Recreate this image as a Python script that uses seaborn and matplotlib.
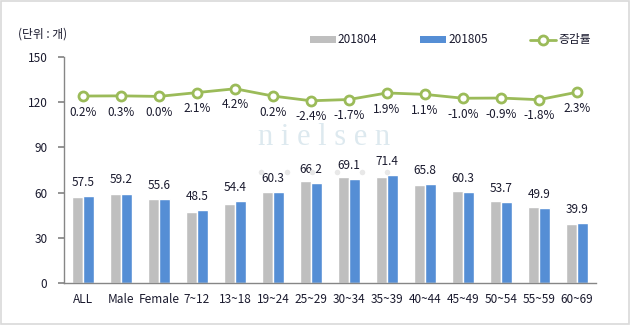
import numpy as np
import pandas as pd
import matplotlib
matplotlib.use("Agg")
import matplotlib.pyplot as plt
from matplotlib.patches import Rectangle, Patch
from matplotlib.lines import Line2D
import seaborn as sns

categories = ["ALL", "Male", "Female", "7~12", "13~18", "19~24", "25~29",
              "30~34", "35~39", "40~44", "45~49", "50~54", "55~59", "60~69"]
s201804 = [57.4, 59.0, 55.6, 47.5, 52.2, 60.2, 67.8, 70.3, 70.1, 65.1, 60.9, 54.2, 50.8, 39.0]
s201805 = [57.5, 59.2, 55.6, 48.5, 54.4, 60.3, 66.2, 69.1, 71.4, 65.8, 60.3, 53.7, 49.9, 39.9]
rate = [0.2, 0.3, 0.0, 2.1, 4.2, 0.2, -2.4, -1.7, 1.9, 1.1, -1.0, -0.9, -1.8, 2.3]
series_names = ["201804", "201805", "증감률"]
yticks = [0, 30, 60, 90, 120, 150]

sns.set_theme(style="white")
plt.rcParams["font.family"] = ["Noto Sans CJK KR", "DejaVu Sans"]
FS = 8.5
TXT = "#1a1a2e"

df = pd.DataFrame({
    "cat": categories * 2,
    "val": s201804 + s201805,
    "series": [series_names[0]] * len(categories) + [series_names[1]] * len(categories),
})

fig = plt.figure(figsize=(6.3, 3.25), dpi=100)
ax = fig.add_axes([0.1016, 0.129, 0.8444, 0.6954])

# watermark
fig.text(0.515, 0.578, "n i e l s e n", family="Liberation Serif", fontsize=22,
         color="#dde9ef", ha="center", va="center", zorder=0)
fig.lines.append(Line2D(np.linspace(0.415, 0.615, 6), [0.47] * 6, transform=fig.transFigure,
                        linestyle="none", marker="o", markersize=4,
                        markerfacecolor="#e8e8e8", markeredgecolor="none", zorder=0))

sns.barplot(data=df, x="cat", y="val", hue="series",
            palette=["#bfbfbf", "#558ed5"], width=0.56, gap=0,
            saturation=1, ax=ax, legend=False, zorder=2)

ax.set_ylim(0, 150)
ax.set_xlim(-0.5, len(categories) - 0.5)
ax.set_yticks(yticks)
ax.set_yticklabels([str(v) for v in yticks], fontsize=FS, color=TXT)
ax.set_xticks(range(len(categories)))
ax.set_xticklabels(categories, fontsize=FS, color=TXT)
ax.set_xticks(np.arange(-0.5, len(categories), 1), minor=True)
ax.tick_params(axis="x", which="major", length=0, pad=7)
ax.tick_params(axis="x", which="minor", length=4, color="#868686", direction="out")
ax.tick_params(axis="y", length=4, color="#868686", direction="out", pad=8)
ax.set_xlabel("")
ax.set_ylabel("")
for s in ["top", "right"]:
    ax.spines[s].set_visible(False)
for s in ["left", "bottom"]:
    ax.spines[s].set_color("#868686")
    ax.spines[s].set_linewidth(1)
ax.patch.set_alpha(0)

for i, v in enumerate(s201805):
    ax.annotate(f"{v:.1f}", (i, v), xytext=(0, 10), textcoords="offset points",
                ha="center", va="center", fontsize=FS, color=TXT)

ax2 = ax.twinx()
sns.pointplot(x=categories, y=rate, ax=ax2, color="#9bbb59", markers="o",
              linewidth=2, markersize=6.5, markerfacecolor="white",
              markeredgecolor="#9bbb59", markeredgewidth=2, zorder=3)
ax2.set_ylim(-102.5, 21.6)
ax2.set_xlim(-0.5, len(categories) - 0.5)
ax2.set_yticks([])
for s in ax2.spines.values():
    s.set_visible(False)
for i, r in enumerate(rate):
    ax2.annotate(f"{r:.1f}%", (i, r), xytext=(0, -7), textcoords="offset points",
                 ha="center", va="top", fontsize=FS, color=TXT)

fig.text(0.028, 0.895, "(단위 : 개)", fontsize=FS, color=TXT, ha="left", va="center")

handles = [Patch(facecolor="#bfbfbf", edgecolor="none"),
           Patch(facecolor="#558ed5", edgecolor="none"),
           Line2D([], [], color="#9bbb59", lw=2, marker="o", markersize=6.5,
                  markerfacecolor="white", markeredgecolor="#9bbb59", markeredgewidth=2)]
fig.legend(handles, series_names, loc="center", bbox_to_anchor=(0.715, 0.877),
           ncol=3, frameon=False, fontsize=FS, handlelength=2.2, handleheight=0.6,
           handletextpad=0.2, columnspacing=3.6, labelcolor=TXT)

fig.patches.append(Rectangle((0.002, 0.003), 0.996, 0.994, transform=fig.transFigure,
                             fill=False, edgecolor="#d9d9d9", linewidth=1.2))

fig.savefig("out.png", dpi=100)
